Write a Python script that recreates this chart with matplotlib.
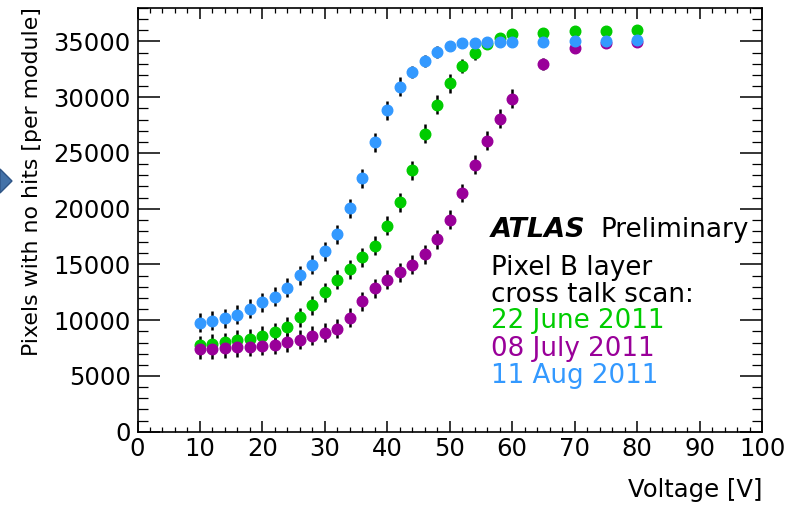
import matplotlib
matplotlib.use("Agg")
import matplotlib.pyplot as plt
from matplotlib.patches import Polygon
from matplotlib.ticker import MultipleLocator

# cross talk scan, pixels with no hits per module vs bias voltage
volts = [10, 12, 14, 16, 18, 20, 22, 24, 26, 28, 30, 32, 34, 36, 38, 40,
         42, 44, 46, 48, 50, 52, 54, 56, 58, 60, 65, 70, 75, 80]

june22 = [7750, 7870, 8020, 8230, 8350, 8620, 8920, 9430, 10270, 11320,
          12490, 13650, 14580, 15630, 16680, 18470, 20570, 23440, 26710, 29310,
          31230, 32780, 33980, 34790, 35350, 35680, 35800, 35900, 35900, 36000]
july08 = [7400, 7400, 7490, 7570, 7630, 7720, 7810, 8020, 8230, 8590,
          8860, 9250, 10240, 11680, 12870, 13620, 14310, 14970, 15930, 17280,
          19010, 21410, 23950, 26110, 28080, 29850, 32950, 34400, 34820, 34950]
aug11 = [9790, 9940, 10180, 10480, 11020, 11590, 12100, 12900, 14010, 14970,
         16200, 17720, 20060, 22750, 25960, 28830, 30930, 32250, 33230, 34070,
         34580, 34880, 34880, 34950, 34980, 34980, 34950, 35050, 35020, 35120]

june22_err = [850] * 21 + [650, 600] + [300] * 7
july08_err = [850] * 26 + [550] + [300] * 3
aug11_err = [850] * 17 + [550] * 3 + [300] * 10

labels = ["22 June 2011", "08 July 2011", "11 Aug 2011"]
colors = ["#00cc00", "#990099", "#3399ff"]

plt.rcParams['font.family'] = ['DejaVu Sans']

fig = plt.figure(figsize=(7.94, 5.05), dpi=100)
ax = fig.add_axes([137.5 / 794, 1 - 431.7 / 505, 624.5 / 794, 423.7 / 505])

for y, err, c in zip([june22, july08, aug11], [june22_err, july08_err, aug11_err], colors):
    ax.errorbar(volts, y, yerr=err, fmt='o', color=c, ms=7.6, mec=c,
                ecolor='black', elinewidth=1.8, capsize=0)

ax.set_xlim(0, 100)
ax.set_ylim(0, 38000)
ax.xaxis.set_major_locator(MultipleLocator(10))
ax.xaxis.set_minor_locator(MultipleLocator(2))
ax.yaxis.set_major_locator(MultipleLocator(5000))
ax.yaxis.set_minor_locator(MultipleLocator(1000))

ax.tick_params(axis='both', which='both', direction='in', top=True, right=True,
               labelsize=17.5, colors='black')
ax.tick_params(axis='x', which='major', length=8, width=1.1, pad=4)
ax.tick_params(axis='x', which='minor', length=3.8, width=0.9)
ax.tick_params(axis='y', which='major', length=15.5, width=1.1, pad=5)
ax.tick_params(axis='y', which='minor', length=7.2, width=0.9)
for s in ax.spines.values():
    s.set_linewidth(1.2)

fig.text(32 / 794, 1 - 7 / 505, "Pixels with no hits [per module]", rotation=90,
         ha='center', va='top', fontsize=15.8)
fig.text(762 / 794, 1 - 496.7 / 505, "Voltage [V]", ha='right', va='baseline',
         fontsize=17.5)

# ATLAS label block
fig.text(490.7 / 794, 1 - 237 / 505, "ATLAS", fontsize=19.5, fontweight='bold',
         fontstyle='italic', va='baseline')
fig.text(600 / 794, 1 - 237 / 505, "Preliminary", fontsize=18.8, va='baseline')
fig.text(490.7 / 794, 1 - 275 / 505, "Pixel B layer", fontsize=18.8, va='baseline')
fig.text(490.7 / 794, 1 - 301.7 / 505, "cross talk scan:", fontsize=18.8, va='baseline')
for lab, c, yb in zip(labels, colors, [328, 356, 383]):
    fig.text(490.7 / 794, 1 - yb / 505, lab, fontsize=18.8, color=c, va='baseline')

# slide bullet arrow at the left edge
arrow = Polygon([(0, 1 - 169 / 505), (12 / 794, 1 - 181 / 505), (0, 1 - 193 / 505)],
                closed=True, transform=fig.transFigure, facecolor='#4472a8',
                edgecolor='#2f5586', linewidth=1)
fig.patches.append(arrow)

fig.savefig("out.png", dpi=100)
